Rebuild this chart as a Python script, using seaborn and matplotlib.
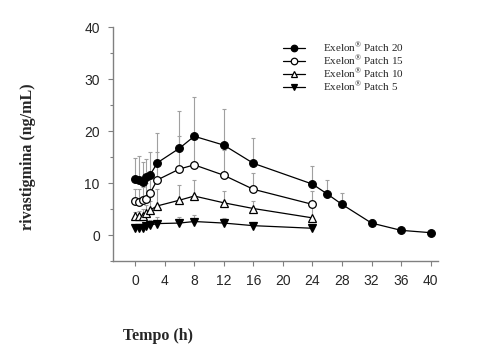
import numpy as np
import pandas as pd
import matplotlib
matplotlib.use("Agg")
import matplotlib.pyplot as plt
import seaborn as sns
from matplotlib.ticker import MultipleLocator

# ---- data ----
t_long = [0, 0.5, 1, 1.5, 2, 3, 6, 8, 12, 16, 24, 26, 28, 32, 36, 40]
c20 = [10.8, 10.6, 10.2, 11.1, 11.5, 13.9, 16.7, 19.0, 17.3, 13.8, 9.8, 7.9, 5.9, 2.3, 0.9, 0.45]
top20 = [14.9, 15.3, 14.0, 14.7, 15.9, 19.7, 23.9, 26.6, 24.2, 18.7, 13.3, 10.5, 8.1, 3.0, 1.0, 0.5]

t_short = [0, 0.5, 1, 1.5, 2, 3, 6, 8, 12, 16, 24]
c15 = [6.5, 6.4, 6.7, 6.9, 8.0, 10.6, 12.7, 13.5, 11.5, 8.8, 5.9]
top15 = [8.8, 8.8, 9.2, 10.0, 11.5, 16.0, 19.0, 19.5, 16.3, 11.9, 8.5]
c10 = [3.6, 3.6, 3.7, 4.2, 4.8, 5.6, 6.7, 7.5, 6.2, 5.1, 3.3]
top10 = [4.5, 4.6, 5.0, 5.8, 6.5, 8.8, 9.7, 10.5, 8.5, 6.5, 6.5]
c5 = [1.3, 1.3, 1.4, 1.7, 1.9, 2.2, 2.3, 2.6, 2.3, 1.8, 1.3]
top5 = [1.8, 1.9, 2.1, 2.4, 2.9, 3.5, 3.5, 3.8, 3.3, 2.6, 1.6]

labels = [r"Exelon$^{\mathrm{®}}$ Patch 20", r"Exelon$^{\mathrm{®}}$ Patch 15",
          r"Exelon$^{\mathrm{®}}$ Patch 10", r"Exelon$^{\mathrm{®}}$ Patch 5"]
x_ticks = [0, 4, 8, 12, 16, 20, 24, 28, 32, 36, 40]
y_ticks = [0, 10, 20, 30, 40]

sns.set_style("white")
plt.rcParams['font.family'] = ['Liberation Sans', 'DejaVu Sans']
plt.rcParams['mathtext.fontset'] = 'custom'
plt.rcParams['mathtext.rm'] = 'Liberation Serif'

fig = plt.figure(figsize=(5.0, 3.48), dpi=100)
ax = fig.add_axes([0.226, 0.25, 0.65, 0.672])

series = [
    (t_long, c20, top20, 'o', 'black', labels[0]),
    (t_short, c15, top15, 'o', 'white', labels[1]),
    (t_short, c10, top10, '^', 'white', labels[2]),
    (t_short, c5, top5, 'v', 'black', labels[3]),
]

for t, c, top, m, fc, lab in series:
    up = np.array(top) - np.array(c)
    ax.errorbar(t, c, yerr=[np.zeros_like(up), up], fmt='none', ecolor='#a0a0a0',
                elinewidth=0.8, capsize=1.6, capthick=0.8, zorder=1)
    df = pd.DataFrame({'t': t, 'c': c})
    sns.lineplot(data=df, x='t', y='c', ax=ax, color='black', linewidth=0.9,
                 marker=m, markersize=5.5, markerfacecolor=fc, markeredgecolor='black',
                 markeredgewidth=0.9, label=lab, zorder=3)

ax.set_xlim(-3, 41)
ax.set_ylim(-5, 40)
ax.set_xticks(x_ticks)
ax.set_yticks(y_ticks)
ax.yaxis.set_minor_locator(MultipleLocator(5))
ax.tick_params(axis='both', which='major', direction='out', length=3.5, width=0.8,
               color='#808080', labelsize=10, pad=6, left=True, bottom=True)
ax.tick_params(axis='y', which='minor', direction='out', length=2, width=0.8,
               color='#808080', left=True)
for s in ['top', 'right']:
    ax.spines[s].set_visible(False)
for s in ['left', 'bottom']:
    ax.spines[s].set_color('#808080')
    ax.spines[s].set_linewidth(1.0)
ax.set_xlabel('')
ax.set_ylabel('')

fig.text(0.056, 0.55, 'rivastigmina (ng/mL)', rotation=90, ha='center', va='center',
         fontsize=11.5, fontweight='bold', family='Liberation Serif')
fig.text(0.316, 0.034, 'Tempo (h)', ha='center', va='center',
         fontsize=11.5, fontweight='bold', family='Liberation Serif')

leg = ax.legend(loc='upper left', bbox_to_anchor=(0.555, 0.900), bbox_transform=fig.transFigure,
                frameon=False, prop={'family': 'Liberation Serif', 'size': 8},
                handlelength=2.0, handletextpad=1.6, labelspacing=-0.1, borderpad=0,
                markerscale=0.85)

fig.savefig('out.png', dpi=100)
